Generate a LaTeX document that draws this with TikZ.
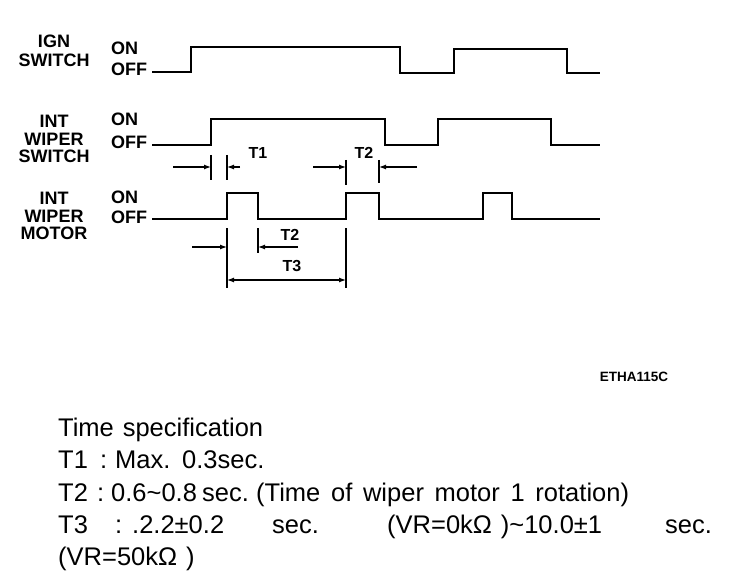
\documentclass[tikz,border=0pt]{standalone}
\usepackage{fontspec}
\setmainfont{Liberation Sans}
\usetikzlibrary{positioning, arrows.meta}

\begin{document}
\begin{tikzpicture}[x=1pt, y=-1pt, inner sep=0pt,
  wave/.style={line width=2.2pt},
  dimline/.style={line width=1.2pt},
  dimtick/.style={line width=2pt},
  arr/.style={dimline, -{Latex[length=7pt, width=5pt]}},
  siglbl/.style={font=\fontsize{18}{17.5}\selectfont\bfseries, align=center, anchor=north},
  lvl/.style={font=\fontsize{18}{18}\selectfont\bfseries, anchor=base west},
  tlbl/.style={font=\fontsize{16}{16}\selectfont\bfseries},
  spec/.style={font={\fontsize{25.5}{26}\selectfont\spaceskip=.35em\relax}, anchor=base west}]
\useasboundingbox (0,0) rectangle (736,588);

\node[siglbl] (ign) at (54,35) {IGN\\[1.5pt]SWITCH};
\node[siglbl] (wsw) at (54,115) {INT\\WIPER\\SWITCH};
\node[siglbl] (wmo) at (54,192) {INT\\WIPER\\MOTOR};

\node[lvl] (ignon) at (111,55) {ON};
\node[lvl] (ignoff) at (111,76) {OFF};
\node[lvl] (wswon) at (111,126) {ON};
\node[lvl] (wswoff) at (111,149) {OFF};
\node[lvl] (wmoon) at (111,204) {ON};
\node[lvl] (wmooff) at (111,223) {OFF};

\draw[wave] (152,72) -- (191,72) |- (400,47) |- (454,73) |- (567,49) |- (600,73);
\draw[wave] (152,145) -- (211,145) |- (385,119) |- (438,145) |- (551,119) |- (600,145);
\draw[wave] (152,219) -- (227,219) |- (258,193) |- (346,219) |- (379,193) |- (483,219) |- (512,193) |- (600,219);

\coordinate (a1) at (211,167);
\coordinate (b1) at (227,167);
\coordinate (a2) at (346,167);
\coordinate (b2) at (379,167);
\coordinate (a3) at (227,247);
\coordinate (b3) at (258,247);
\coordinate (a4) at (227,280);
\coordinate (b4) at (346,280);

\draw[dimtick] (211,155) -- (211,180);
\draw[dimtick] (227,155) -- (227,180);
\draw[dimtick] (346,160) -- (346,185);
\draw[dimtick] (379,160) -- (379,183);
\draw[dimtick] (227,228) -- (227,288);
\draw[dimtick] (258,228) -- (258,253);
\draw[dimtick] (346,228) -- (346,288);

\draw[arr] (173,167) -- (a1);
\draw[arr] (240,167) -- (b1);
\draw[arr] (313,167) -- (a2);
\draw[arr] (417,167) -- (b2);
\draw[arr] (192,247) -- (a3);
\draw[arr] (298,247) -- (b3);
\draw[dimline, {Latex[length=7pt, width=5pt]}-{Latex[length=7pt, width=5pt]}] (a4) -- (b4);

\node[tlbl] (t1) at (258,153) {T1};
\node[tlbl] (t2a) at (364,153) {T2};
\node[tlbl] (t2b) at (290,235) {T2};
\node[tlbl] (t3) at (292,266) {T3};

\node[font=\fontsize{13.5}{13.5}\selectfont\bfseries] (code) at (634,377) {ETHA115C};

\node[spec] (head) at (58,436) {Time specification};
\node[spec] (s1a) at (58,468) {T1};
\node[spec] (s1b) at (100,468) {:};
\node[spec] (s1c) at (115,468) {Max.};
\node[spec] (s1d) at (182,468) {0.3sec.};
\node[spec] (s2a) at (58,501) {T2};
\node[spec] (s2b) at (97,501) {:};
\node[spec] (s2c) at (111,501) {0.6\textasciitilde0.8};
\node[spec] (s2d) at (202,501) {sec.};
\node[spec] (s2e) at (256,501) {\spaceskip=.42em\relax(Time of wiper motor 1 rotation)};
\node[spec] (s3a) at (58,533) {T3};
\node[spec] (s3b) at (115,533) {:};
\node[spec] (s3c) at (132,533) {.2.2±0.2};
\node[spec] (s3d) at (272,533) {sec.};
\node[spec] (s3e) at (387,533) {(VR=0kΩ )\textasciitilde10.0±1};
\node[spec] (s3f) at (665,533) {sec.};
\node[spec] (s4) at (58,565) {(VR=50kΩ )};
\end{tikzpicture}
\end{document}
